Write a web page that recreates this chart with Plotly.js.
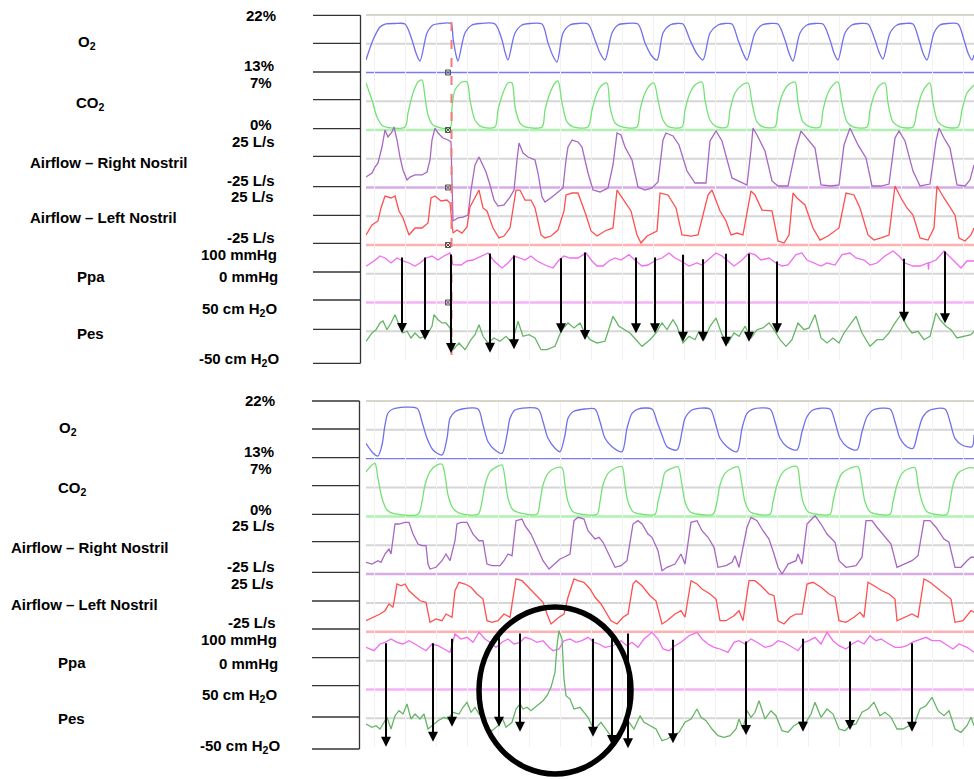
<!DOCTYPE html>
<html>
<head>
<meta charset="utf-8">
<script src="https://cdn.plot.ly/plotly-3.0.1.min.js"></script>
<style>
  html, body { margin: 0; padding: 0; background: #fff; }
  #chart { width: 974px; height: 779px; }
</style>
</head>
<body>
<div id="chart"></div>
<script>
// ---------- Recording 1 (upper panel), time in seconds ----------
const topO2Time = [0,0.7,1.4,1.9,2.9,3.9,4.6,5.0,5.4,6.1,6.7,7.4,8.5,8.7,9.0,9.2,9.9,10.6,11.4,12.9,13.6,13.9,14.2,14.9,15.6,16.4,17.6,18.2,18.7,19.1,19.7,20.4,21.2,22.2,22.9,23.4,23.9,24.6,25.2,26.0,27.2,27.9,28.5,29.1,29.7,30.4,31.1,31.7,32.4,33.1,33.7,34.4,35.2,35.9,36.6,37.2,37.7,38.1,38.9,39.6,40.4,41.2,41.9,42.3,42.7,43.4,44.1,44.9,45.7,46.4,46.8,47.2,47.9,48.6,49.4,50.2,50.9,51.3,51.7,52.4,53.1,53.9,54.7,55.3,55.7,56.1,56.8,57.4,58.2,59.2,59.8,60.2,60.6,60.8];
const topO2 = [14.96,18.09,20.12,20.59,20.67,20.59,18.09,16.05,14.80,19.18,20.43,20.67,20.67,18.40,15.74,14.80,19.18,20.43,20.67,20.59,18.09,16.21,14.96,19.18,20.43,20.67,20.59,17.62,15.58,14.64,19.18,20.43,20.67,20.59,18.09,16.05,14.96,19.18,20.43,20.67,20.59,17.62,15.74,14.96,19.18,20.43,20.67,20.59,18.09,15.90,14.96,19.18,20.43,20.67,20.59,18.09,16.05,14.96,19.18,20.43,20.67,20.59,18.09,16.05,14.80,19.18,20.43,20.67,20.59,18.09,16.05,14.96,19.18,20.43,20.67,20.59,18.09,16.21,15.11,19.18,20.43,20.67,20.59,18.09,16.05,14.96,19.18,20.43,20.67,20.59,18.09,16.05,14.96,15.74];

const topCO2Time = [0,0.6,1.1,1.7,3.9,4.2,4.7,5.2,5.6,5.9,6.2,6.7,8.4,8.6,8.9,9.6,10.1,10.4,10.9,11.6,12.9,13.2,13.7,14.2,14.6,14.9,15.4,15.9,17.6,17.9,18.4,18.9,19.2,19.6,20.1,20.7,22.2,22.6,23.1,23.6,24.1,24.4,24.9,25.6,27.1,27.4,27.9,28.4,28.8,29.2,29.7,30.3,31.6,31.9,32.4,32.9,33.6,33.9,34.4,35.1,36.1,36.4,36.9,37.6,38.2,38.6,39.1,39.7,40.9,41.2,41.7,42.2,42.9,43.2,43.7,44.4,45.4,45.7,46.2,46.7,47.2,47.6,48.1,48.7,50.1,50.4,50.9,51.4,51.9,52.2,52.7,53.4,54.7,55.1,55.6,56.1,56.4,56.7,57.2,57.9,59.2,59.6,60.1,60.6,60.8];
const topCO2 = [5.72,3.65,1.58,0.49,0.37,2.07,4.50,5.84,6.09,4.02,1.83,0.61,0.24,2.80,4.87,5.84,5.84,3.65,1.22,0.37,0.37,2.43,4.50,5.72,5.72,2.80,0.85,0.37,0.37,2.43,4.50,5.72,5.97,3.29,0.98,0.37,0.37,2.43,4.50,5.48,5.72,2.80,0.85,0.37,0.37,2.43,4.50,5.48,5.72,3.65,1.22,0.37,0.37,2.43,4.50,5.48,5.84,3.65,1.22,0.37,0.37,2.43,4.50,5.48,5.72,3.29,0.98,0.37,0.37,2.43,4.50,5.48,5.84,3.29,0.98,0.37,0.37,2.43,4.50,5.48,5.84,3.29,0.98,0.37,0.37,2.43,4.50,5.48,5.72,3.29,0.98,0.37,0.37,2.43,4.50,5.48,5.72,3.29,0.98,0.37,0.37,2.43,4.50,5.23,5.48];

const topRightTime = [0,0.6,0.9,1.2,1.6,1.9,2.2,2.6,2.8,3.1,3.4,3.7,4.1,4.4,4.9,5.6,6.1,6.4,6.6,6.9,7.2,7.7,8.2,8.5,8.7,9.2,9.7,10.2,10.5,10.9,11.3,11.6,12.0,12.4,12.8,13.2,13.8,14.4,14.8,15.1,15.3,15.7,16.2,16.9,17.2,17.6,17.9,18.6,19.2,19.7,20.0,20.2,20.6,21.2,21.6,22.2,22.7,23.4,24.2,24.7,25.1,25.5,25.9,26.6,27.2,27.9,28.6,29.2,29.7,30.0,30.7,31.3,32.1,32.9,34.0,34.4,35.0,35.6,36.6,37.3,38.1,38.5,38.7,39.1,39.9,40.6,41.2,42.2,43.0,43.5,44.1,44.9,45.5,46.5,47.3,47.8,48.4,49.2,50.0,50.6,51.5,52.3,52.9,53.3,53.9,54.7,55.4,56.4,57.0,57.3,57.8,58.4,59.1,59.9,60.4,60.8];
const topRightFlow = [-15.9,-12.4,-7.2,-3.7,10.2,25.0,18.9,23.3,27.6,16.3,1.5,-9.8,-18.5,-15.9,-14.1,-14.1,-11.5,-1.1,16.3,26.7,22.4,18.0,16.3,14.6,-54.1,-51.5,-50.7,-48.9,-27.2,-5.4,1.5,-3.7,-11.5,-22.8,-35.9,-41.1,-40.2,-33.3,-27.2,-1.1,13.7,5.0,1.5,-1.1,-12.4,-33.3,-37.6,-33.3,-28.9,-25.4,-1.1,10.2,16.3,14.6,10.2,-12.4,-27.2,-28.9,-25.4,-5.4,22.4,20.7,10.2,-1.1,-24.6,-27.2,-25.4,-20.2,16.3,22.4,19.8,12.0,-10.7,-21.1,-21.1,15.4,24.1,15.4,-16.7,-19.3,-22.8,7.6,26.7,20.7,6.7,-19.3,-23.7,-23.7,9.3,24.1,18.0,9.3,-22.8,-23.7,-22.8,12.0,26.7,12.0,0.7,-23.7,-23.7,-22.0,18.0,24.1,15.4,-10.7,-23.7,-22.0,15.4,26.7,18.0,9.3,-22.8,-23.7,-18.5,-5.4];

const topLeftTime = [0,0.6,1.2,1.5,1.9,2.5,2.9,3.3,3.7,4.3,4.9,5.6,6.2,6.5,6.9,7.5,8.1,8.4,8.7,9.1,9.6,10.1,10.4,10.9,11.3,11.7,12.1,12.7,13.3,13.8,14.4,15.0,15.4,15.9,16.5,16.9,17.5,17.9,18.5,19.2,19.8,20.0,20.6,21.2,22.0,22.5,23.1,23.9,24.7,25.1,25.8,26.5,27.1,27.5,28.1,29.1,29.4,30.2,31.0,31.6,32.5,33.2,34.2,34.6,35.4,36.0,36.5,37.1,37.7,38.5,38.9,39.6,40.6,41.2,41.8,42.3,42.7,43.1,43.9,44.7,45.4,46.2,47.3,48.0,48.8,49.4,50.2,50.8,51.5,52.3,52.9,53.5,54.1,54.7,55.4,56.2,56.8,57.1,57.8,58.4,58.9,59.3,59.9,60.5,60.8];
const topLeftFlow = [-16.3,-7.6,-4.1,7.2,17.6,15.9,17.6,4.6,-1.5,-16.3,-10.2,-10.2,-5.9,15.9,17.6,13.3,14.1,11.5,-14.6,-12.0,-14.6,-9.3,8.0,16.7,22.8,7.2,4.6,-10.2,-18.9,-17.2,-10.2,22.8,22.8,14.1,14.1,7.2,-16.3,-18.9,-17.2,-12.0,4.6,18.5,20.2,20.2,1.1,-12.8,-17.2,-12.8,-10.2,22.8,14.1,4.6,-16.3,-23.3,-17.2,-12.8,20.2,18.5,7.2,-16.3,-17.2,-16.3,18.5,22.8,4.6,-4.1,-16.3,-14.6,-16.3,22.0,18.5,5.4,4.6,-21.5,-23.3,-16.3,20.2,15.9,9.8,-10.2,-20.7,-17.2,-10.2,20.2,18.5,7.2,-16.3,-20.7,-18.9,-16.3,26.3,15.9,7.2,1.1,-18.9,-20.7,-10.2,26.3,15.9,7.2,1.1,-18.9,-21.5,-16.3,-10.2];

const topPpaTime = [0,0.8,1.4,1.9,2.5,3.1,3.7,4.3,4.9,5.4,6.0,6.6,7.2,7.8,8.4,8.7,9.5,10.1,10.7,11.5,12.2,12.8,13.6,14.2,14.8,15.4,15.9,16.5,17.1,17.9,18.7,19.3,19.8,20.4,21.2,22.0,22.6,23.1,23.7,24.3,24.9,25.5,26.3,27.0,27.6,28.2,29.0,29.6,30.3,30.9,31.5,32.3,33.1,33.6,34.4,35.0,35.6,36.2,36.8,37.5,38.3,38.9,39.5,40.3,41.0,41.6,42.2,43.0,43.6,44.1,44.9,45.5,46.1,46.9,47.6,48.4,49.0,49.8,50.4,51.1,51.9,52.7,53.3,53.9,54.7,55.4,56.2,56.25,56.3,57.0,57.8,58.3,58.9,59.5,60.1,60.8];
const topPpa = [25.9,44.4,61.7,54.8,37.4,54.8,44.4,37.4,27.0,37.4,54.8,61.7,47.8,61.7,72.2,31.5,30.4,44.4,47.8,61.7,72.2,44.4,20.0,37.4,61.7,54.8,47.8,61.7,44.4,30.4,20.0,47.8,61.7,54.8,54.8,72.2,44.4,27.0,27.0,44.4,54.8,47.8,66.3,44.4,27.0,30.4,47.8,54.8,72.2,54.8,44.4,27.0,37.4,30.4,54.8,72.2,61.7,44.4,27.0,44.4,72.2,66.3,47.8,54.8,37.4,27.0,30.4,66.3,72.2,47.8,37.4,27.0,37.4,30.4,66.3,72.2,54.8,47.8,30.4,37.4,61.7,79.1,61.7,37.4,27.0,27.0,37.4,14.1,37.4,47.8,79.1,61.7,37.4,20.0,44.4,44.4];

const topPesTime = [0,0.6,1.0,1.4,1.7,2.1,2.5,2.9,3.3,3.7,4.1,4.5,4.9,5.4,6.0,6.6,6.8,7.2,7.6,8.0,8.4,8.7,9.3,9.9,10.5,10.9,11.3,11.7,12.2,12.8,13.4,14.0,14.6,15.2,15.7,16.3,16.9,17.5,18.1,18.9,19.3,19.6,20.2,20.8,21.4,21.8,22.4,23.1,23.9,24.7,25.3,25.9,26.4,27.0,27.6,28.4,29.0,29.6,30.1,30.7,31.1,31.7,32.3,32.9,33.3,33.8,34.4,35.0,35.6,36.2,36.8,37.3,37.9,38.5,39.1,39.7,40.3,40.8,41.4,42.0,42.6,43.2,43.8,44.3,44.9,45.5,46.1,46.7,47.3,47.8,48.4,49.0,49.6,50.4,51.1,51.7,52.3,52.9,53.5,54.1,54.6,55.2,55.8,56.4,57.0,57.4,58.0,58.5,59.1,59.9,60.5,60.8];
const topPes = [-17.5,-3.0,2.7,14.4,17.8,2.7,14.4,28.8,11.4,-3.0,0.4,-11.7,-3.0,-11.7,-8.8,8.6,28.8,20.1,14.4,14.4,5.7,-32.1,-20.4,-32.1,-14.7,-6.0,11.4,-8.8,-20.4,-11.7,-17.5,-8.8,-20.4,17.3,-8.8,-6.0,-11.7,-32.1,-32.1,-26.2,-8.8,2.7,14.4,5.7,14.4,-0.1,-14.7,-20.4,-17.5,26.0,8.6,2.7,-3.0,-14.7,-26.2,-14.7,-3.0,14.4,2.7,20.1,8.6,-20.4,-8.8,-14.7,-0.1,-14.7,8.6,23.0,-6.0,-20.4,-3.0,-8.8,8.6,-11.7,2.7,5.7,14.4,2.7,-14.7,-26.2,-14.7,14.4,2.7,5.7,28.8,-11.7,-20.4,-11.7,-20.4,-3.0,11.4,26.0,-3.0,-26.2,-14.7,-14.7,-3.0,14.4,28.8,8.6,-3.0,-0.1,-14.7,-8.8,31.7,20.1,8.6,2.7,-11.7,-8.8,-6.0,-0.1];

// arrows: time, Ppa value at the tail, Pes value at the head
const topArrowTime = [3.6,5.9,8.5,12.4,14.8,19.5,21.9,27.0,28.9,31.7,33.7,36.0,38.3,41.1,53.8,57.9];
const topArrowFromPpa = [61.7,61.7,72.2,75.7,68.7,59.3,79.1,61.7,61.7,71.1,55.8,74.6,74.6,47.8,57.2,82.6];
const topArrowToPes = [-3.0,-15.2,-37.8,-37.3,-31.4,-3.6,-15.2,-3.6,-3.6,-18.2,-18.2,-26.9,-18.2,-3.6,16.6,13.8];
const topMarkerTime = 8.55;

// ---------- Recording 2 (lower panel) ----------
const botO2Time = [0,0.7,1.2,1.6,1.9,2.2,2.7,5.1,5.6,6.1,6.7,7.6,8.1,8.4,8.9,9.6,11.2,11.7,12.2,12.9,13.6,14.1,14.4,14.9,17.2,17.7,18.2,18.9,19.4,19.9,20.2,20.7,21.9,22.9,23.4,23.9,24.6,25.6,26.1,26.6,27.2,28.6,29.1,29.6,30.1,31.1,31.6,31.9,32.6,34.4,34.9,35.4,36.1,37.1,37.6,38.1,38.7,40.4,40.9,41.4,42.1,43.1,43.6,44.1,44.7,46.4,46.9,47.4,48.1,49.1,49.6,50.1,50.7,52.4,52.9,53.4,54.1,54.7,55.2,55.7,56.4,57.9,58.4,58.9,59.6,60.6,60.8];
const botO2 = [15.40,13.89,13.42,15.14,18.26,20.13,20.75,20.86,18.77,16.18,14.36,13.58,16.18,19.30,20.33,20.75,20.75,18.26,15.65,14.36,13.84,16.70,19.30,20.60,20.75,18.77,16.18,14.62,14.09,16.70,19.30,20.33,20.75,20.75,18.77,16.18,14.87,14.09,17.74,20.08,20.75,20.75,18.77,16.70,14.87,14.36,17.21,19.30,20.60,20.75,18.77,16.18,14.87,14.09,17.74,20.08,20.75,20.75,18.77,16.18,14.87,14.36,17.21,19.55,20.60,20.75,18.77,16.18,14.87,14.36,17.21,19.55,20.60,20.75,18.77,16.18,14.87,14.62,17.21,19.55,20.60,20.75,18.77,16.18,15.14,14.87,16.70];

const botCO2Time = [0,0.6,0.9,1.2,1.6,2.1,2.7,5.2,5.6,5.9,6.4,7.1,7.6,7.9,8.2,8.7,9.4,11.2,11.6,11.9,12.4,13.1,13.6,13.9,14.2,14.7,15.6,17.1,17.4,17.7,18.2,18.9,19.6,19.9,20.2,20.7,21.6,23.1,23.4,23.7,24.2,24.9,25.6,25.9,26.2,26.7,27.6,28.9,29.2,29.6,29.9,30.6,31.2,31.6,31.9,32.4,33.2,34.7,35.1,35.4,35.9,36.6,37.2,37.6,37.9,38.4,39.2,40.4,40.7,41.1,41.6,42.2,43.1,43.4,43.7,44.2,45.1,46.4,46.7,47.1,47.6,48.4,49.2,49.6,49.9,50.4,51.2,52.4,52.7,53.1,53.6,54.2,54.9,55.2,55.6,56.1,56.9,58.1,58.4,58.7,59.2,59.9,60.6,60.8];
const botCO2 = [5.42,6.24,6.44,4.62,2.20,0.78,0.38,0.26,1.78,3.81,5.42,6.24,6.32,5.02,2.60,0.98,0.38,0.26,1.78,3.81,5.42,6.03,6.24,4.62,2.20,0.78,0.38,0.26,1.78,3.81,5.23,5.84,5.91,3.81,1.78,0.57,0.26,0.26,1.78,3.81,5.23,5.84,6.03,3.81,1.78,0.57,0.26,0.26,1.78,3.81,5.35,5.84,6.03,3.81,1.78,0.57,0.26,0.26,1.78,3.81,5.23,5.84,6.03,3.81,1.78,0.57,0.26,0.26,1.78,3.81,5.23,5.84,6.03,3.81,1.78,0.57,0.26,0.26,1.78,3.81,5.23,5.84,6.03,3.81,1.78,0.57,0.26,0.26,1.78,3.81,5.23,5.75,5.91,3.81,1.78,0.57,0.26,0.26,1.78,3.81,5.23,5.75,5.91,5.84];

const botRightTime = [0,0.6,1.2,1.5,1.9,2.3,2.5,2.9,3.3,3.9,4.3,4.7,5.2,5.6,6.0,6.2,6.4,7.0,7.6,8.0,8.4,8.9,9.1,9.5,10.1,10.7,11.3,11.7,12.1,12.6,13.4,13.8,14.2,14.6,15.0,15.6,15.9,16.5,17.1,17.7,18.3,18.9,19.4,19.8,20.4,20.8,21.2,21.8,22.2,22.9,23.3,23.7,24.3,24.9,25.5,26.1,26.7,27.2,27.6,28.2,28.6,29.2,29.6,30.1,30.9,31.5,31.9,32.5,33.1,33.6,34.2,34.8,35.2,36.0,36.6,36.9,37.3,38.1,38.5,39.1,39.7,40.3,40.8,41.2,41.6,42.2,43.0,43.2,43.6,44.1,44.9,45.5,46.1,46.9,47.3,48.0,49.0,49.6,50.0,50.6,51.1,51.9,52.5,53.1,53.9,54.6,55.2,55.8,56.4,57.0,57.8,58.3,58.9,59.5,60.1,60.5,60.8];
const botRightFlow = [-14.8,-16.3,-13.4,-14.8,-7.6,-3.3,-7.6,18.4,18.4,19.9,19.9,9.7,1.1,-0.4,-0.4,-16.3,-20.6,-19.1,-13.4,-7.6,-13.4,3.9,18.4,19.9,19.9,9.7,3.9,3.9,-16.3,-17.7,-17.7,-13.4,-7.6,-9.1,21.3,22.7,16.9,9.7,-1.8,-13.4,-20.6,-16.3,-11.9,-10.4,-7.6,21.3,24.2,22.7,12.6,5.4,6.9,2.6,-7.6,-19.1,-17.7,-13.4,18.4,21.3,18.4,9.7,6.9,-4.7,-22.1,-19.1,-16.3,-7.6,-16.3,19.9,21.3,12.6,6.9,-1.8,-19.1,-17.7,-14.8,-9.1,-19.1,15.6,24.2,21.3,12.6,5.4,-7.6,-19.1,-24.9,-16.3,-13.4,-7.6,-16.3,18.4,25.6,18.4,9.7,2.6,-13.4,-19.1,-17.7,-10.4,21.3,21.3,15.6,6.9,1.1,-19.1,-16.3,-13.4,-9.1,21.3,21.3,15.6,5.4,2.6,-19.1,-19.1,-13.4,-10.4,-10.4];

const botLeftTime = [0,0.8,1.4,1.9,2.3,2.7,3.1,3.5,3.9,4.3,4.8,5.4,6.0,6.4,7.0,7.6,8.0,8.6,8.9,9.3,9.9,10.5,11.1,11.7,12.1,12.6,13.2,13.8,14.4,15.0,15.6,16.1,16.9,17.7,18.1,18.5,19.3,19.8,20.2,20.8,21.2,21.8,22.4,22.9,23.5,24.1,24.5,25.1,25.7,26.2,26.7,27.0,27.6,28.4,29.0,29.6,30.1,30.9,31.5,31.9,32.5,33.1,33.6,34.4,35.0,35.4,36.0,36.8,37.3,37.7,38.3,38.9,39.5,40.3,40.8,41.2,41.8,42.4,43.0,43.6,44.1,44.7,45.5,46.3,46.9,47.3,48.0,48.8,49.4,49.8,50.2,50.8,51.6,52.3,52.9,53.1,53.9,54.6,55.2,55.8,56.4,57.2,58.0,58.5,58.9,59.7,60.5,60.8];
const botLeftFlow = [-15.4,-12.4,-9.6,-6.7,-0.9,-3.8,16.4,14.9,16.4,10.6,6.3,1.9,0.6,-16.8,-13.9,-15.4,-9.6,-12.4,10.6,17.9,16.4,13.6,7.8,3.4,-15.4,-16.8,-15.4,-9.6,-12.4,20.8,19.3,14.9,7.8,0.6,-9.6,-18.2,-12.4,-9.6,4.9,20.8,19.3,17.9,12.1,4.9,-0.9,-9.6,-15.4,-18.2,-12.4,-9.6,16.4,19.3,14.9,6.3,1.9,-18.2,-15.4,-9.6,-6.7,-12.4,19.3,16.4,12.1,7.8,3.4,-15.4,-15.4,-11.1,-6.7,-15.4,19.3,19.3,14.9,7.8,6.3,-15.4,-18.2,-12.4,-9.6,-9.6,16.4,17.9,13.6,7.8,4.9,-15.4,-16.8,-12.4,-8.1,-12.4,17.9,14.9,10.6,7.8,3.4,-15.4,-12.4,-9.6,-12.4,20.8,17.9,12.1,6.3,3.4,-16.8,-15.4,-6.7,-8.1];

const botPpaTime = [0,0.8,1.4,1.9,2.5,3.1,3.7,4.3,4.9,5.4,6.0,6.6,7.2,7.8,8.4,8.9,9.5,10.1,10.7,11.3,11.9,12.4,13.0,13.6,14.2,14.8,15.4,15.9,16.5,17.1,17.7,18.3,18.7,19.3,19.8,20.4,21.0,21.6,22.2,22.8,23.3,23.9,24.7,25.5,26.1,26.6,27.2,27.8,28.6,29.2,29.7,30.3,30.9,31.5,32.3,33.1,33.6,34.2,34.8,35.4,36.2,36.8,37.3,37.9,38.5,39.1,39.9,40.6,41.2,41.8,42.6,43.2,43.8,44.3,44.9,45.5,46.1,46.7,47.3,48.0,48.6,49.2,49.8,50.4,51.0,51.5,52.3,52.9,53.5,54.1,54.6,55.4,56.0,56.6,57.4,58.2,58.7,59.3,60.1,60.8];
const botPpa = [46.3,34.5,57.7,63.6,75.0,63.6,57.7,69.2,57.7,46.3,34.5,57.7,51.8,40.4,28.9,92.4,75.0,80.9,63.6,98.3,75.0,63.6,46.3,63.6,75.0,57.7,63.6,80.9,75.0,63.6,69.2,46.3,34.5,40.4,69.2,75.0,63.6,69.2,80.9,63.6,57.7,46.3,51.8,69.2,51.8,63.6,46.3,75.0,98.3,75.0,40.4,34.5,51.8,63.6,86.5,98.3,75.0,57.7,46.3,40.4,28.9,63.6,69.2,57.7,75.0,63.6,46.3,51.8,69.2,63.6,46.3,34.5,63.6,69.2,80.9,57.7,98.3,69.2,51.8,40.4,57.7,69.2,57.7,86.5,69.2,75.0,57.7,46.3,46.3,51.8,63.6,75.0,80.9,69.2,69.2,51.8,40.4,57.7,46.3,28.9];

const botPesTime = [0,0.6,1.0,1.4,1.7,2.1,2.5,2.9,3.3,3.7,4.1,4.5,4.9,5.4,5.8,6.2,6.6,7.2,7.8,8.2,8.7,9.3,9.7,10.1,10.5,10.9,11.3,11.9,12.2,12.6,13.2,13.6,14.0,14.6,15.0,15.4,15.7,16.1,16.5,17.1,17.7,18.1,18.5,18.9,19.1,19.3,19.6,19.8,20.0,20.4,20.8,21.4,21.8,22.2,22.6,22.9,23.5,24.1,24.7,25.3,25.9,26.3,26.8,27.4,27.8,28.4,29.0,29.6,30.1,30.7,31.3,31.9,32.5,33.1,33.5,34.0,34.6,35.2,35.8,36.4,37.0,37.3,37.7,38.1,38.5,38.9,39.3,39.9,40.5,41.0,41.6,42.2,42.8,43.4,44.0,44.5,44.9,45.5,46.1,46.7,47.3,47.9,48.4,49.0,49.6,50.2,50.8,51.4,51.9,52.5,53.1,53.7,54.3,54.9,55.4,56.0,56.6,57.2,57.8,58.3,58.9,59.5,60.1,60.5,60.8];
const botPes = [-9.8,-15.5,-12.7,-18.5,-9.8,1.8,-18.5,4.6,13.3,7.5,24.9,-1.1,7.5,-1.1,7.5,-18.5,-12.7,-4.1,1.8,-1.1,10.5,7.5,19.2,27.8,10.5,19.2,7.5,-1.1,-18.5,-21.4,-12.7,1.8,-15.5,-6.8,16.2,24.9,16.2,19.2,13.3,21.9,30.6,39.3,53.8,79.8,125.9,151.9,137.5,68.2,39.3,33.5,16.2,19.2,10.5,1.8,-12.7,-18.5,-6.8,-21.4,-35.8,-24.2,-12.7,-6.8,-18.5,4.6,-6.8,-12.7,-18.5,-38.7,-35.8,-30.1,-24.2,-6.8,-1.1,16.2,1.8,-4.1,-18.5,-30.1,-32.8,-30.1,-18.5,-1.1,-18.5,13.3,1.8,10.5,30.6,-1.1,13.3,4.6,-21.4,-24.2,-12.7,-6.8,-6.8,7.5,27.8,1.8,16.2,7.5,-18.5,-21.4,-12.7,-9.8,10.5,16.2,27.8,4.6,10.5,1.8,-18.5,-18.5,-12.7,-6.8,16.2,21.9,36.5,13.3,4.6,13.3,-18.5,-24.2,-12.7,1.8,-12.7];

const botArrowTime = [2.0,6.7,8.6,13.3,15.4,22.7,24.6,26.2,30.7,38.0,43.7,48.4,54.6];
const botArrowFromPpa = [65.7,65.7,80.9,94.8,99.3,80.9,102.8,99.3,77.5,71.6,80.9,71.6,65.7];
const botArrowToPes = [-49.1,-40.5,-14.5,-14.5,-23.1,-31.8,-46.2,-51.9,-43.2,-28.9,-23.1,-20.2,-23.1];

// ---------- channel scales and labels ----------
const channelNames = ['O<sub>2</sub>', 'CO<sub>2</sub>', 'Airflow – Right Nostril', 'Airflow – Left Nostril', 'Ppa', 'Pes'];
const channelLow = [13, 0, -25, -25, -100, -50];
const channelHigh = [22, 7, 25, 25, 100, 50];
const scaleLabels = ['22%', '13%', '7%', '0%', '25 L/s', '-25 L/s', '25 L/s', '-25 L/s', '100 mmHg', '0 mmHg', '50 cm H<sub>2</sub>O', '-50 cm H<sub>2</sub>O'];

// ---------- page geometry ----------
const W = 974, H = 779;
const px = v => v / W;
const py = v => 1 - v / H;
const plotLeft = 366;
const traceColors = ['#6f6ff0', '#74e274', '#a866c4', '#ff4f4f', '#f06cf0', '#66b566'];
const baseColors = ['#7a7af5', '#b0f0b0', '#d7ace6', '#ffb0b0', '#f7b2f7'];
const baseWidths = [1.3, 2.5, 2.5, 2.5, 2.5];
const FONT = 'Liberation Sans, Arial, Helvetica, sans-serif';
const LABEL_SIZE = 15;

const panels = [
  { xa: 'x', yBase: 0, top: 15, bottom: 360,
    series: [[topO2Time, topO2], [topCO2Time, topCO2], [topRightTime, topRightFlow], [topLeftTime, topLeftFlow], [topPpaTime, topPpa], [topPesTime, topPes]],
    arrows: [topArrowTime, topArrowFromPpa, topArrowToPes],
    labelY: [15, 65, 83, 124, 141, 180, 197, 238, 254, 277, 310, 359],
    labelRight: [277, 275, 273, 273, 276, 276, 275, 276, 278, 279, 278, 280],
    nameX: [77, 75, 29, 29, 76, 76], nameY: [43, 103, 162, 218, 277, 333],
    tickY: [15.3, 43.3, 72, 99.7, 128.7, 156.3, 186.7, 215.3, 243.3, 272, 300, 329.3, 363.3],
    tickX: [313, 360.5] },
  { xa: 'x2', yBase: 6, top: 401, bottom: 747.2,
    series: [[botO2Time, botO2], [botCO2Time, botCO2], [botRightTime, botRightFlow], [botLeftTime, botLeftFlow], [botPpaTime, botPpa], [botPesTime, botPes]],
    arrows: [botArrowTime, botArrowFromPpa, botArrowToPes],
    labelY: [400, 451, 468, 509, 525, 566, 583, 622, 639, 663, 695, 746],
    labelRight: [276, 275, 273, 273, 276, 276, 275, 277, 278, 279, 278, 281],
    nameX: [58, 57, 10, 10, 57, 57], nameY: [428, 488, 547, 604, 662, 718],
    tickY: [401, 429, 457.7, 485.7, 514.3, 541.7, 572.3, 601, 629, 657.7, 685.7, 717, 749],
    tickX: [312, 359.5] }
];

const axisId = n => (n === 0 ? 'y' : 'y' + (n + 1));
const axisKey = n => (n === 0 ? 'yaxis' : 'yaxis' + (n + 1));

// each channel gets its own stacked y axis: one sixth of the panel height
function channelRange(k) {
  const span = channelHigh[k] - channelLow[k];
  return [channelLow[k] - (5 - k) * span, channelHigh[k] + k * span];
}

const data = [];
const shapes = [];
const annotations = [];
const layout = {
  width: W, height: H,
  margin: { l: 0, r: 0, t: 0, b: 0 },
  paper_bgcolor: '#ffffff', plot_bgcolor: 'rgba(0,0,0,0)',
  showlegend: false,
  font: { family: FONT, size: LABEL_SIZE, color: '#000' }
};

panels.forEach((p, pi) => {
  const xKey = pi === 0 ? 'xaxis' : 'xaxis2';
  const baseY = axisId(p.yBase);
  layout[xKey] = {
    domain: [px(plotLeft), 1], range: [0, 60.8], anchor: baseY,
    showgrid: true, gridcolor: '#f1f1f1', gridwidth: 1, tick0: 0.8, dtick: 3.1,
    showticklabels: false, ticks: '', zeroline: false, showline: false, fixedrange: true
  };
  for (let k = 0; k < 6; k++) {
    const n = p.yBase + k;
    const ax = { range: channelRange(k), anchor: p.xa, visible: false, fixedrange: true };
    if (k === 0) ax.domain = [py(p.bottom), py(p.top)];
    else ax.overlaying = baseY;
    layout[axisKey(n)] = ax;

    const [t, v] = p.series[k];
    const smooth = k < 2;
    data.push({
      type: 'scatter', mode: 'lines', x: t, y: v, xaxis: p.xa, yaxis: axisId(n),
      line: { color: traceColors[k], width: 1.3, shape: smooth ? 'spline' : 'linear', smoothing: smooth ? 0.8 : undefined },
      hoverinfo: 'skip'
    });

    // light grey mid-channel grid line
    const mid = (channelLow[k] + channelHigh[k]) / 2;
    shapes.push({ type: 'line', layer: 'below', xref: 'paper', yref: axisId(n), x0: px(plotLeft), x1: 1, y0: mid, y1: mid,
      line: { color: '#d6d6d6', width: 2 } });
    // coloured channel baseline
    if (k < 5) {
      shapes.push({ type: 'line', layer: 'below', xref: 'paper', yref: axisId(n), x0: px(plotLeft), x1: 1, y0: channelLow[k], y1: channelLow[k],
        line: { color: baseColors[k], width: baseWidths[k] } });
    }

    // channel name on the left
    annotations.push({ xref: 'paper', yref: 'paper', x: px(p.nameX[k]), y: py(p.nameY[k]), xanchor: 'left', yanchor: 'middle',
      text: '<b>' + channelNames[k] + '</b>', showarrow: false, borderpad: 0, font: { family: FONT, size: LABEL_SIZE, color: '#000' } });
  }

  // top border of the recording window
  shapes.push({ type: 'line', xref: 'paper', yref: 'paper', x0: px(plotLeft), x1: 1, y0: py(p.top), y1: py(p.top),
    line: { color: '#d8d6cb', width: 2 } });

  // scale labels
  scaleLabels.forEach((s, i) => {
    annotations.push({ xref: 'paper', yref: 'paper', x: px(p.labelRight[i]), y: py(p.labelY[i]), xanchor: 'right', yanchor: 'middle',
      text: '<b>' + s + '</b>', showarrow: false, borderpad: 0, font: { family: FONT, size: LABEL_SIZE, color: '#000' } });
  });

  // bracket of leader lines
  p.tickY.forEach(y => {
    shapes.push({ type: 'line', xref: 'paper', yref: 'paper', x0: px(p.tickX[0]), x1: px(p.tickX[1]), y0: py(y), y1: py(y),
      line: { color: '#333', width: 1.3 } });
  });
  shapes.push({ type: 'line', xref: 'paper', yref: 'paper', x0: px(p.tickX[1]), x1: px(p.tickX[1]),
    y0: py(p.tickY[0]), y1: py(p.tickY[p.tickY.length - 1]), line: { color: '#333', width: 1.3 } });

  // arrows from the Ppa trace down to the Pes trace
  const ppaR = channelRange(4), pesR = channelRange(5);
  const ppaToPesAxis = v => pesR[0] + (v - ppaR[0]) / (ppaR[1] - ppaR[0]) * (pesR[1] - pesR[0]);
  const [at, afrom, ato] = p.arrows;
  at.forEach((t, i) => {
    annotations.push({ xref: p.xa, yref: axisId(p.yBase + 5), x: t, y: ato[i],
      axref: p.xa, ayref: axisId(p.yBase + 5), ax: t, ay: ppaToPesAxis(afrom[i]),
      text: '', showarrow: true, arrowhead: 2, arrowsize: 1, arrowwidth: 2, arrowcolor: '#000', standoff: 0 });
  });
});

// event cursor in the first recording
shapes.push({ type: 'line', xref: 'x', yref: 'paper', x0: topMarkerTime, x1: topMarkerTime, y0: py(355), y1: py(15),
  line: { color: '#f27a7a', width: 2, dash: 'dash' } });
for (let k = 0; k < 5; k++) {
  data.push({ type: 'scatter', mode: 'markers', x: [topMarkerTime - 0.35], y: [channelLow[k]], xaxis: 'x', yaxis: axisId(k),
    marker: { symbol: 'square-x-open', size: 5, color: '#555', line: { width: 1, color: '#555' } }, hoverinfo: 'skip' });
}

// highlighted event in the second recording
shapes.push({ type: 'circle', xref: 'paper', yref: 'paper', x0: px(479), x1: px(631), y0: py(774), y1: py(607),
  line: { color: '#000', width: 5.5 } });

layout.shapes = shapes;
layout.annotations = annotations;

Plotly.newPlot('chart', data, layout, { staticPlot: true, displayModeBar: false });
</script>
</body>
</html>
